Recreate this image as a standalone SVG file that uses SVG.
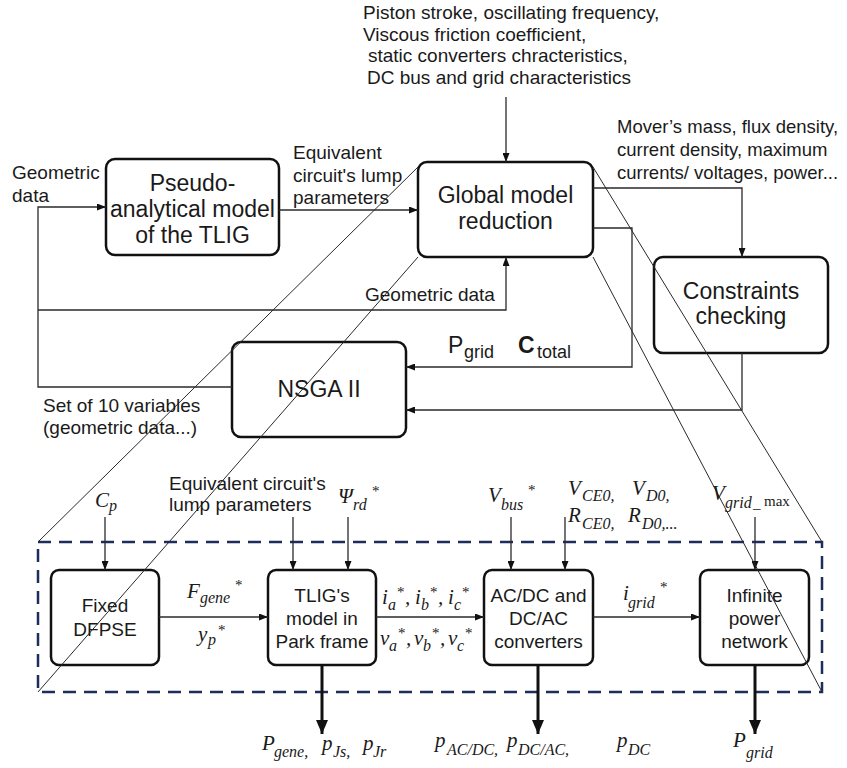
<svg xmlns="http://www.w3.org/2000/svg" width="847" height="768" viewBox="0 0 847 768">
<defs>
<style>
.t{font-family:"Liberation Sans",Arial,sans-serif;fill:#1a1a1a}
.s19{font-size:19px}
.big{font-size:23px;text-anchor:middle}
.mid{font-size:19px;text-anchor:middle}
.m{font-family:"Liberation Serif","Times New Roman",serif;font-style:italic;fill:#1a1a1a;font-size:21px}
.sb{font-size:16px}
.st{font-family:"Liberation Serif","Times New Roman",serif;font-style:normal;fill:#1a1a1a;font-size:15px}
.box{fill:none;stroke:#111;stroke-width:2.5}
.ln{fill:none;stroke:#2a2a2a;stroke-width:1.3}
.thk{fill:none;stroke:#111;stroke-width:3}
.dg{fill:none;stroke:#2a2a2a;stroke-width:1}
</style>
<marker id="ar" viewBox="0 0 9 7" refX="9" refY="3.5" markerWidth="9" markerHeight="7" markerUnits="userSpaceOnUse" orient="auto" preserveAspectRatio="none"><path d="M0,0 L9,3.5 L0,7 z" fill="#111"/></marker>
<marker id="ab" viewBox="0 0 14 12" refX="14" refY="6" markerWidth="14" markerHeight="12" markerUnits="userSpaceOnUse" orient="auto" preserveAspectRatio="none"><path d="M0,0 L14,6 L0,12 z" fill="#111"/></marker>
</defs>
<rect width="847" height="768" fill="#fff"/>

<!-- dashed frame -->
<rect x="38" y="542" width="784" height="150" fill="none" stroke="#1f2d5c" stroke-width="2.5" stroke-dasharray="13 8"/>

<g id="pseudo">
<rect class="box" x="106" y="159" width="173" height="96" rx="9"/>
<text class="t big" x="192.5" y="191">Pseudo-</text>
<text class="t big" x="192.5" y="217">analytical model</text>
<text class="t big" x="192.5" y="243">of the TLIG</text>
</g>
<g id="global">
<rect class="box" x="418" y="162" width="175" height="95" rx="9"/>
<text class="t big" x="505.5" y="203">Global model</text>
<text class="t big" x="505.5" y="229">reduction</text>
</g>
<g id="constraints">
<rect class="box" x="654" y="257" width="174" height="96" rx="9"/>
<text class="t big" x="741" y="299">Constraints</text>
<text class="t big" x="741" y="324">checking</text>
</g>
<g id="nsga">
<rect class="box" x="232" y="342" width="174" height="95" rx="9"/>
<text class="t big" x="319" y="397">NSGA II</text>
</g>
<g id="dfpse">
<rect class="box" x="51" y="570" width="108" height="95" rx="8"/>
<text class="t mid" x="105" y="612">Fixed</text>
<text class="t mid" x="105" y="636">DFPSE</text>
</g>
<g id="tlig">
<rect class="box" x="268" y="570" width="108" height="95" rx="8"/>
<text class="t mid" x="322" y="602">TLIG's</text>
<text class="t mid" x="322" y="625">model in</text>
<text class="t mid" x="322" y="648">Park frame</text>
</g>
<g id="conv">
<rect class="box" x="484" y="570" width="109" height="95" rx="8"/>
<text class="t mid" x="538.5" y="602">AC/DC and</text>
<text class="t mid" x="538.5" y="625">DC/AC</text>
<text class="t mid" x="538.5" y="648">converters</text>
</g>
<g id="grid">
<rect class="box" x="700" y="570" width="109" height="95" rx="8"/>
<text class="t mid" x="754.5" y="602">Infinite</text>
<text class="t mid" x="754.5" y="625">power</text>
<text class="t mid" x="754.5" y="648">network</text>
</g>

<g id="connectors">
<path class="ln" d="M506,97 L506,162" marker-end="url(#ar)"/>
<path class="ln" d="M279,210 L418,210" marker-end="url(#ar)"/>
<path class="ln" d="M232,387 L38,387 L38,207 L106,207" marker-end="url(#ar)"/>
<path class="ln" d="M38,310 L506,310 L506,257" marker-end="url(#ar)"/>
<path class="ln" d="M593,188 L742,188 L742,257" marker-end="url(#ar)"/>
<path class="ln" d="M593,228 L632,228 L632,367 L406,367" marker-end="url(#ar)"/>
<path class="ln" d="M742,353 L742,410 L406,410" marker-end="url(#ar)"/>
<path class="ln" d="M105,517 L105,570" marker-end="url(#ar)"/>
<path class="ln" d="M293,517 L293,570" marker-end="url(#ar)"/>
<path class="ln" d="M348,517 L348,570" marker-end="url(#ar)"/>
<path class="ln" d="M511,517 L511,570" marker-end="url(#ar)"/>
<path class="ln" d="M565,517 L565,570" marker-end="url(#ar)"/>
<path class="ln" d="M755,517 L755,570" marker-end="url(#ar)"/>
<path class="ln" d="M159,617 L268,617" marker-end="url(#ar)"/>
<path class="ln" d="M376,617 L484,617" marker-end="url(#ar)"/>
<path class="ln" d="M593,617 L700,617" marker-end="url(#ar)"/>
<path class="thk" d="M322,665 L322,734" marker-end="url(#ab)"/>
<path class="thk" d="M538,665 L538,734" marker-end="url(#ab)"/>
<path class="thk" d="M755,665 L755,734" marker-end="url(#ab)"/>
<!-- projection lines -->
<path class="dg" d="M418,167 L38,542"/>
<path class="dg" d="M418,257 L38,692"/>
<path class="dg" d="M593,167 L822,542"/>
<path class="dg" d="M593,257 L822,692"/>
</g>

<!-- labels -->
<text class="t s19" x="363" y="19">Piston stroke, oscillating frequency,</text>
<text class="t s19" x="363" y="40.5">Viscous friction coefficient,</text>
<text class="t s19" x="368" y="62">static converters chracteristics,</text>
<text class="t s19" x="367" y="83.5">DC bus and grid characteristics</text>
<text class="t" font-size="18.5" x="617" y="133">Mover’s mass, flux density,</text>
<text class="t" font-size="18.5" x="617" y="156">current density, maximum</text>
<text class="t" font-size="18.5" x="617" y="179">currents/ voltages, power...</text>
<text class="t s19" x="12" y="179">Geometric</text>
<text class="t s19" x="12" y="202">data</text>
<text class="t s19" x="293" y="159">Equivalent</text>
<text class="t s19" x="293" y="181.5">circuit's lump</text>
<text class="t s19" x="293" y="204">parameters</text>
<text class="t s19" x="365" y="301">Geometric data</text>
<text class="t s19" x="43" y="412">Set of 10 variables</text>
<text class="t s19" x="43" y="434">(geometric data...)</text>
<text class="t" font-size="23" x="448" y="353">P</text>
<text class="t" font-size="18" x="464" y="358">grid</text>
<text class="t" font-size="23" font-weight="bold" x="518" y="353">C</text>
<text class="t" font-size="18" x="537" y="358">total</text>
<text class="t s19" x="169" y="490">Equivalent circuit's</text>
<text class="t s19" x="169" y="511">lump parameters</text>

<!-- math labels -->
<text class="m" x="95" y="507">C</text><text class="m sb" x="109" y="511">p</text>
<text class="m" x="338" y="503" font-style="normal">Ψ</text><text class="m sb" x="353" y="510">rd</text><text class="st" x="372" y="496">*</text>
<text class="m" x="488" y="502">V</text><text class="m sb" x="501" y="510">bus</text><text class="st" x="528" y="495">*</text>
<text class="m" x="568" y="495">V</text><text class="m sb" x="582" y="501">CE0,</text>
<text class="m" x="632" y="495">V</text><text class="m sb" x="646" y="501">D0,</text>
<text class="m" x="568" y="522">R</text><text class="m sb" x="582" y="529">CE0,</text>
<text class="m" x="628" y="522">R</text><text class="m sb" x="642" y="529">D0,...</text>
<text class="m" x="712" y="500">V</text><text class="m sb" x="725" y="508">grid</text><text class="st" x="753" y="508">_</text><text class="st" x="764" y="506">max</text>

<text class="m" x="187" y="598">F</text><text class="m sb" x="200" y="603">gene</text><text class="st" x="235" y="590">*</text>
<text class="m" x="198" y="641">y</text><text class="m sb" x="208" y="645">p</text><text class="st" x="218" y="635">*</text>

<text class="m" x="382" y="604">i</text><text class="m sb" x="388" y="610">a</text><text class="st" x="397" y="597">*</text><text class="m" x="405" y="604">,</text>
<text class="m" x="415" y="604">i</text><text class="m sb" x="421" y="610">b</text><text class="st" x="430" y="597">*</text><text class="m" x="438" y="604">,</text>
<text class="m" x="448" y="604">i</text><text class="m sb" x="454" y="610">c</text><text class="st" x="462" y="597">*</text>

<text class="m" x="380" y="645">v</text><text class="m sb" x="389" y="651">a</text><text class="st" x="398" y="638">*</text><text class="m" x="406" y="645">,</text>
<text class="m" x="414" y="645">v</text><text class="m sb" x="423" y="651">b</text><text class="st" x="432" y="638">*</text><text class="m" x="440" y="645">,</text>
<text class="m" x="448" y="645">v</text><text class="m sb" x="457" y="651">c</text><text class="st" x="465" y="638">*</text>

<text class="m" x="623" y="600">i</text><text class="m sb" x="628" y="608">grid</text><text class="st" x="660" y="592">*</text>

<text class="m" x="262" y="750">P</text><text class="m sb" x="274" y="757">gene,</text>
<text class="m" x="322" y="750">p</text><text class="m sb" x="333" y="757">Js,</text>
<text class="m" x="363" y="750">p</text><text class="m sb" x="373" y="757">Jr</text>
<text class="m" x="435" y="747">p</text><text class="m sb" x="447" y="755">AC/DC,</text>
<text class="m" x="507" y="747">p</text><text class="m sb" x="518" y="755">DC/AC,</text>
<text class="m" x="617" y="747">p</text><text class="m sb" x="628" y="755">DC</text>
<text class="m" x="733" y="747">P</text><text class="m sb" x="746" y="758">grid</text>
</svg>
